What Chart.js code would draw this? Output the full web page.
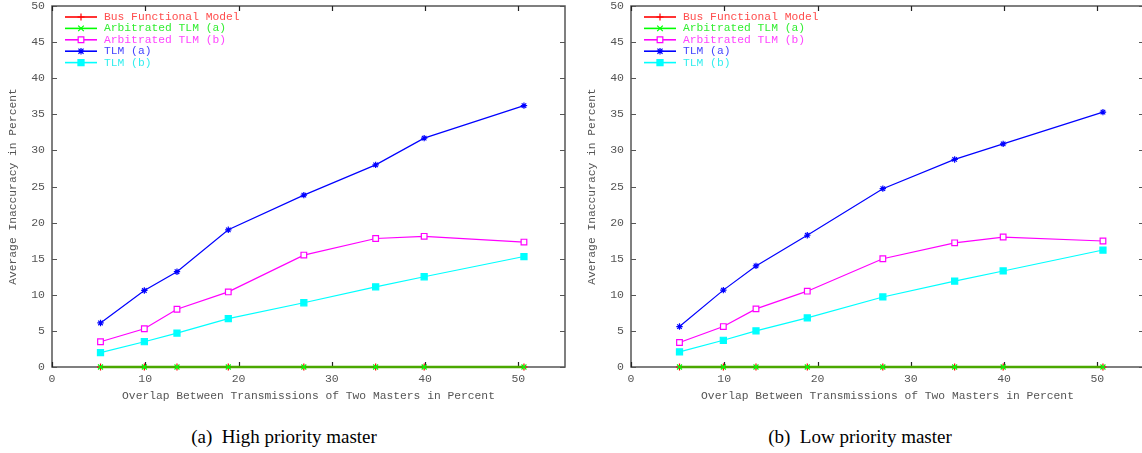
<!DOCTYPE html>
<html>
<head>
<meta charset="utf-8">
<script src="https://cdn.jsdelivr.net/npm/chart.js@4/dist/chart.umd.min.js"></script>
<style>
  html, body { margin: 0; padding: 0; background: #fff; }
  body { width: 1142px; height: 453px; position: relative; overflow: hidden; }
  .panel { position: absolute; top: 0; width: 571px; height: 410px; }
  .caption { position: absolute; top: 426px; font-family: "Liberation Serif", "Times New Roman", serif;
             font-size: 19px; color: #000; white-space: pre; transform: translateX(-50%); }
</style>
</head>
<body>
<div class="panel" style="left:0"><canvas id="chartHigh" width="571" height="410"></canvas></div>
<div class="panel" style="left:579px"><canvas id="chartLow" width="571" height="410"></canvas></div>
<div class="caption" style="left:284px">(a)  High priority master</div>
<div class="caption" style="left:860px">(b)  Low priority master</div>

<script>
// Overlap values (x axis), shared by both plots
const overlap = [5.2, 9.9, 13.4, 18.9, 27.0, 34.7, 39.9, 50.6];

const seriesNames = ['Bus Functional Model', 'Arbitrated TLM (a)', 'Arbitrated TLM (b)', 'TLM (a)', 'TLM (b)'];

// (a) High priority master
const bfmHigh  = [0, 0, 0, 0, 0, 0, 0, 0];
const arbAHigh = [0, 0, 0, 0, 0, 0, 0, 0];
const arbBHigh = [3.5, 5.3, 8.0, 10.4, 15.5, 17.8, 18.1, 17.3];
const tlmAHigh = [6.1, 10.6, 13.2, 19.0, 23.8, 28.0, 31.7, 36.2];
const tlmBHigh = [2.0, 3.5, 4.7, 6.7, 8.9, 11.1, 12.5, 15.3];

// (b) Low priority master
const bfmLow  = [0, 0, 0, 0, 0, 0, 0, 0];
const arbALow = [0, 0, 0, 0, 0, 0, 0, 0];
const arbBLow = [3.4, 5.6, 8.05, 10.5, 15.0, 17.2, 18.0, 17.45];
const tlmALow = [5.6, 10.65, 14.0, 18.25, 24.7, 28.75, 30.9, 35.3];
const tlmBLow = [2.1, 3.7, 5.0, 6.8, 9.7, 11.9, 13.3, 16.2];

const xTicks = [0, 10, 20, 30, 40, 50];
const yTicks = [0, 5, 10, 15, 20, 25, 30, 35, 40, 45, 50];

const MONO = '"Liberation Mono", "Courier New", monospace';

// line / marker styles
const styles = [
  { line: '#ff0000', point: '#ff0000', text: '#ff4d4d', shape: 'cross', r: 3.5, fill: '#ff0000' },
  { line: '#4aa800', point: '#00ff00', text: '#33ee33', shape: 'crossRot', r: 3.5, fill: '#00ff00' },
  { line: '#ff00ff', point: '#ff00ff', text: '#ff44ff', shape: 'rect', r: 4, fill: '#ffffff' },
  { line: '#0000ff', point: '#0000ff', text: '#4444ff', shape: 'star', r: 3.2, fill: '#0000ff' },
  { line: '#00ffff', point: '#00ffff', text: '#33eeee', shape: 'rect', r: 4.3, fill: '#00ffff' }
];

function toPoints(ys) {
  return ys.map((y, i) => ({ x: overlap[i], y: y }));
}

// simple marker drawing for the legend samples
function drawMarker(ctx, shape, x, y, r, color, fill) {
  ctx.save();
  ctx.strokeStyle = color;
  ctx.fillStyle = fill;
  ctx.lineWidth = 1.2;
  ctx.beginPath();
  if (shape === 'cross' || shape === 'star') {
    ctx.moveTo(x - r, y); ctx.lineTo(x + r, y);
    ctx.moveTo(x, y - r); ctx.lineTo(x, y + r);
  }
  if (shape === 'crossRot' || shape === 'star') {
    const d = r * 0.8;
    ctx.moveTo(x - d, y - d); ctx.lineTo(x + d, y + d);
    ctx.moveTo(x + d, y - d); ctx.lineTo(x - d, y + d);
  }
  if (shape === 'rect') {
    const s = r * Math.SQRT1_2;
    ctx.rect(x - s, y - s, 2 * s, 2 * s);
    ctx.fill();
  }
  ctx.stroke();
  ctx.restore();
}

// gnuplot-like frame with inward ticks on all four sides
const framePlugin = {
  id: 'frame',
  beforeDatasetsDraw(chart) {
    const { ctx, chartArea: a, scales } = chart;
    ctx.save();
    ctx.strokeStyle = '#555';
    ctx.lineWidth = 1.5;
    ctx.strokeRect(a.left, a.top, a.right - a.left, a.bottom - a.top);
    ctx.lineWidth = 1.2;
    ctx.beginPath();
    yTicks.forEach(v => {
      const py = Math.round(scales.y.getPixelForValue(v)) + 0.5;
      ctx.moveTo(a.left, py); ctx.lineTo(a.left + 5, py);
      ctx.moveTo(a.right, py); ctx.lineTo(a.right - 5, py);
    });
    ctx.stroke();
    ctx.strokeStyle = '#222';
    ctx.beginPath();
    xTicks.forEach(v => {
      const px = Math.round(scales.x.getPixelForValue(v)) + 0.5;
      ctx.moveTo(px, a.bottom); ctx.lineTo(px, a.bottom - 5);
      ctx.moveTo(px, a.top); ctx.lineTo(px, a.top + 5);
    });
    ctx.stroke();
    ctx.restore();
  },
  afterDatasetsDraw(chart) {
    const { ctx, chartArea: a } = chart;
    ctx.save();
    ctx.font = '11.3px ' + MONO;
    ctx.textBaseline = 'middle';
    chart.data.datasets.forEach((ds, i) => {
      const st = styles[i];
      const y = a.top + 11 + i * 11.4;
      ctx.strokeStyle = st.point;
      ctx.lineWidth = 1.6;
      ctx.beginPath();
      ctx.moveTo(a.left + 13, y); ctx.lineTo(a.left + 45, y);
      ctx.stroke();
      drawMarker(ctx, st.shape, a.left + 29, y, st.r, st.point, st.fill);
      ctx.fillStyle = st.text;
      ctx.fillText(ds.label, a.left + 52, y);
    });
    ctx.restore();
  }
};

function makeChart(id, seriesList) {
  const datasets = seriesList.map((ys, i) => ({
    label: seriesNames[i],
    data: toPoints(ys),
    borderColor: styles[i].line,
    borderWidth: i === 1 ? 2.4 : 1.2,
    pointStyle: styles[i].shape,
    pointRadius: styles[i].r,
    pointBorderColor: styles[i].point,
    pointBackgroundColor: styles[i].fill,
    pointBorderWidth: 1.2,
    tension: 0,
    clip: 6,
    order: 5 - i
  }));

  new Chart(document.getElementById(id).getContext('2d'), {
    type: 'line',
    data: { datasets },
    options: {
      responsive: false,
      animation: false,
      events: [],
      layout: { padding: { top: 6, right: 6, left: 0, bottom: 0 } },
      plugins: { legend: { display: false }, tooltip: { enabled: false } },
      scales: {
        x: {
          type: 'linear',
          min: 0, max: 55,
          afterBuildTicks: s => { s.ticks = xTicks.map(v => ({ value: v })); },
          afterFit: s => { s.height = 43; s.paddingLeft = 0; s.paddingRight = 0; },
          grid: { display: false, drawTicks: false },
          border: { display: false },
          ticks: { color: '#555', padding: 5, font: { family: MONO, size: 11.5 } },
          title: {
            display: true,
            text: 'Overlap Between Transmissions of Two Masters in Percent',
            color: '#555',
            font: { family: MONO, size: 11.3, lineHeight: 1 },
            padding: { top: 0, bottom: 8 }
          }
        },
        y: {
          type: 'linear',
          min: 0, max: 50,
          afterBuildTicks: s => { s.ticks = yTicks.map(v => ({ value: v })); },
          afterFit: s => { s.width = 52; s.paddingTop = 0; s.paddingBottom = 0; },
          grid: { display: false, drawTicks: false },
          border: { display: false },
          ticks: { color: '#555', padding: 7, font: { family: MONO, size: 11.5 } },
          title: {
            display: true,
            text: 'Average Inaccuracy in Percent',
            color: '#555',
            font: { family: MONO, size: 11.3, lineHeight: 1 },
            padding: { top: 7.4, bottom: 0 }
          }
        }
      }
    },
    plugins: [framePlugin]
  });
}

makeChart('chartHigh', [bfmHigh, arbAHigh, arbBHigh, tlmAHigh, tlmBHigh]);
makeChart('chartLow', [bfmLow, arbALow, arbBLow, tlmALow, tlmBLow]);
</script>
</body>
</html>
